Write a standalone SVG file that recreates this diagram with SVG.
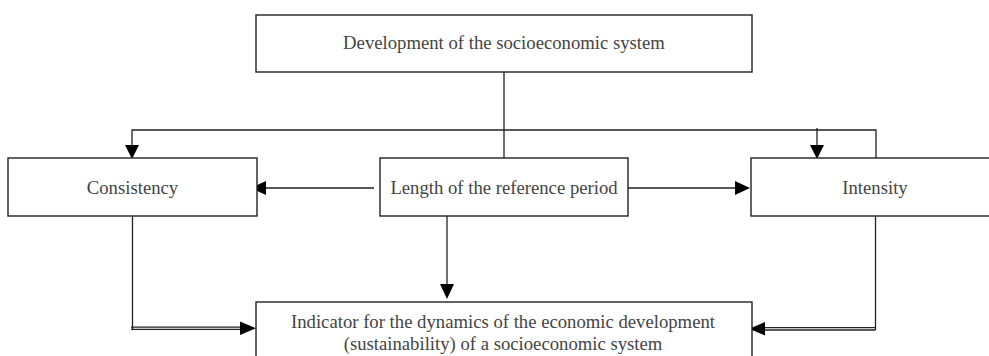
<svg xmlns="http://www.w3.org/2000/svg" width="989" height="356" viewBox="0 0 989 356">
<defs>
<style>
.box{fill:#fff;stroke:#222;stroke-width:1.4}
.t{font-family:"Liberation Serif","Times New Roman",serif;font-size:18.7px;fill:#444;text-anchor:middle}
.c{fill:none;stroke:#222;stroke-width:1.3}
.ah{fill:#000;stroke:none}
</style>
</defs>
<rect width="989" height="356" fill="#fff"/>
<g id="connectors">
<line class="c" x1="504" y1="72" x2="504" y2="158"/>
<polyline class="c" points="132,145 132,130 876,130 876,158"/>
<line class="c" x1="817" y1="128" x2="817" y2="145"/>
<line class="c" x1="374" y1="188" x2="265" y2="188"/>
<line class="c" x1="626" y1="188" x2="735" y2="188"/>
<line class="c" x1="447" y1="216" x2="447" y2="284"/>
<polyline class="c" points="132.5,216 132.5,329.3"/>
<line class="c" x1="131" y1="327.2" x2="242" y2="327.2"/>
<line class="c" x1="131" y1="329.4" x2="242" y2="329.4"/>
<polyline class="c" points="875.5,216 875.5,330"/>
<line class="c" x1="875.5" y1="327.7" x2="762" y2="327.7"/>
<line class="c" x1="875.5" y1="330" x2="762" y2="330"/>
<polygon class="ah" points="125,145 139,145 132,159"/>
<polygon class="ah" points="810,145 824,145 817,159"/>
<polygon class="ah" points="251,188 266,181 266,195"/>
<polygon class="ah" points="750,188 735,181 735,195"/>
<polygon class="ah" points="440,284 454,284 447,299"/>
<polygon class="ah" points="256,328.3 240,321.5 240,335"/>
<polygon class="ah" points="749,328.8 765,322 765,335.5"/>
</g>
<g id="node-development">
<rect class="box" x="256" y="15" width="496" height="57"/>
<text class="t" x="504" y="49">Development of the socioeconomic system</text>
</g>
<g id="node-consistency">
<rect class="box" x="8" y="158" width="249" height="58"/>
<text class="t" x="132.5" y="194">Consistency</text>
</g>
<g id="node-length">
<rect class="box" x="380" y="158" width="248" height="58"/>
<text class="t" x="504" y="194">Length of the reference period</text>
</g>
<g id="node-intensity">
<rect class="box" x="751" y="158" width="260" height="58"/>
<text class="t" x="875" y="194">Intensity</text>
</g>
<g id="node-indicator">
<rect class="box" x="256" y="302" width="496" height="70"/>
<text class="t" x="503" y="328">Indicator for the dynamics of the economic development</text>
<text class="t" x="503" y="350">(sustainability) of a socioeconomic system</text>
</g>
</svg>
